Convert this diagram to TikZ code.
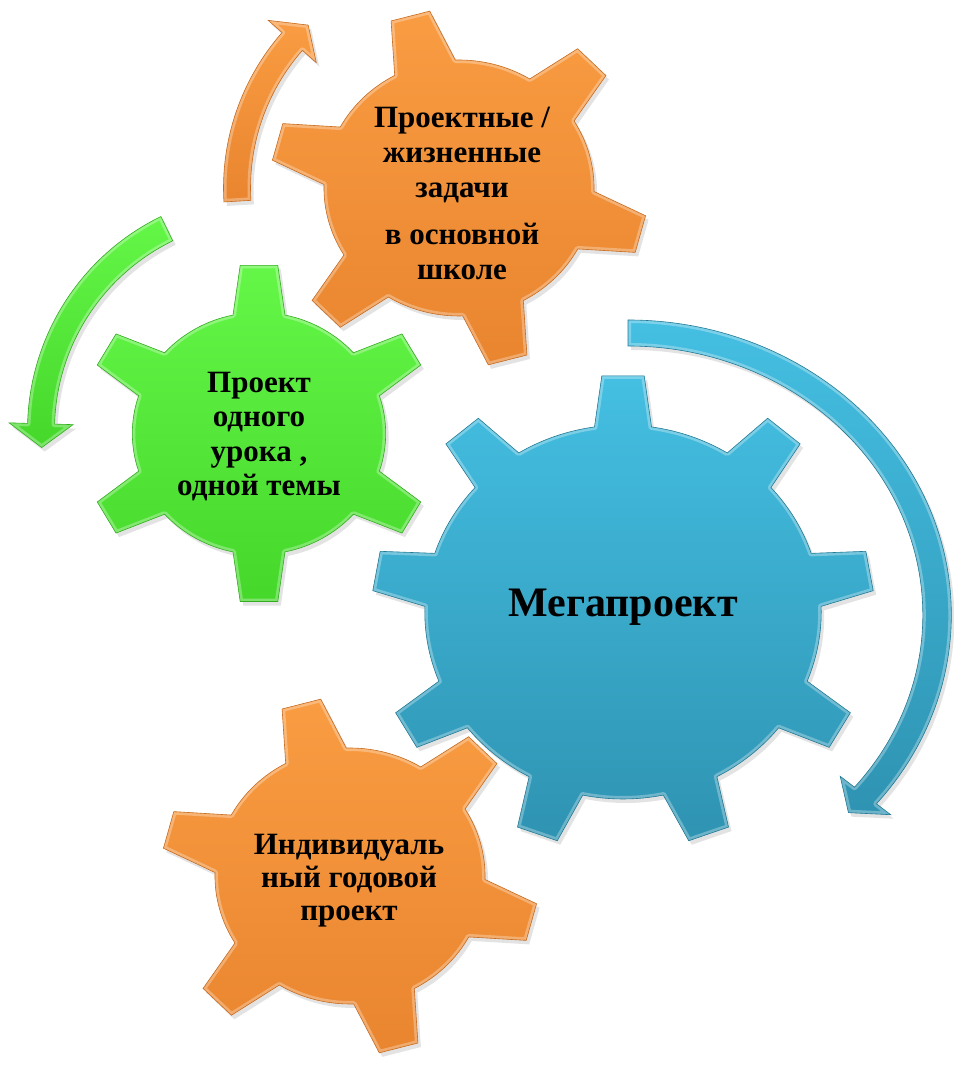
\documentclass[tikz,border=0pt]{standalone}
\usepackage{fontspec}
\setmainfont{Liberation Serif}
\usetikzlibrary{shadows}
\definecolor{orT}{HTML}{F99C42}
\definecolor{orB}{HTML}{E9852F}
\definecolor{orE}{HTML}{C76C20}
\definecolor{grT}{HTML}{64F748}
\definecolor{grB}{HTML}{45D82B}
\definecolor{grE}{HTML}{33AD1F}
\definecolor{blT}{HTML}{44BFE2}
\definecolor{blB}{HTML}{2F93B2}
\definecolor{blE}{HTML}{237A95}
\newcommand\gearpath[6]{%
  ({#2-deg(#5/#3)}:#3)
  \foreach \k in {1,...,#1}{
    -- ({#2+(\k-1)*360/#1-deg(#6/#4)}:#4)
    -- ({#2+(\k-1)*360/#1+deg(#6/#4)}:#4)
    -- ({#2+(\k-1)*360/#1+deg(#5/#3)}:#3)
    arc[start angle={#2+(\k-1)*360/#1+deg(#5/#3)}, end angle={#2+\k*360/#1-deg(#5/#3)}, radius=#3]
  } -- cycle}
\newcommand\arrowpath[6]{%
  ({#4}:{#1+#2}) arc[start angle={#4}, end angle={#5}, radius={#1+#2}]
  -- ({#5}:{#1+#3}) -- ({#6}:{#1}) -- ({#5}:{#1-#3}) -- ({#5}:{#1-#2})
  arc[start angle={#5}, end angle={#4}, radius={#1-#2}] -- cycle}
\newcommand\gearfull[9]{%
  \path[shd, top color=#1, bottom color=#2] \gearpath{#4}{#5}{#6}{#7}{#8}{#9};
  \begin{scope}
    \clip \gearpath{#4}{#5}{#6}{#7}{#8}{#9};
    \draw[bevel] \gearpath{#4}{#5}{#6}{#7}{#8}{#9};
  \end{scope}
  \draw[#3, line width=0.6pt] \gearpath{#4}{#5}{#6}{#7}{#8}{#9};}
\newcommand\arrowfull[9]{%
  \path[shd, top color=#1, bottom color=#2] \arrowpath{#4}{#5}{#6}{#7}{#8}{#9};
  \begin{scope}
    \clip \arrowpath{#4}{#5}{#6}{#7}{#8}{#9};
    \draw[bevel] \arrowpath{#4}{#5}{#6}{#7}{#8}{#9};
  \end{scope}
  \draw[#3, line width=0.6pt] \arrowpath{#4}{#5}{#6}{#7}{#8}{#9};}
\tikzset{
  shd/.style={drop shadow={shadow xshift=3pt, shadow yshift=-4pt, opacity=0.22}},
  bevel/.style={draw=white, opacity=0.3, line width=6pt, line join=round},
  gtext/.style={align=center, inner sep=0pt, text=black,
    font=\bfseries\fontsize{31}{35}\selectfont},
}
\begin{document}
\begin{tikzpicture}[x=1pt, y=1pt]
\useasboundingbox (0,0) rectangle (953,1070);
\fill[white] (0,0) rectangle (953,1070);
% arrows
\begin{scope}[shift={(459,882)}]
  \arrowfull{orT}{orB}{orE}{222}{13.5}{32}{183.4}{138.7}{132.8}
\end{scope}
\begin{scope}[shift={(265,640)}]
  \arrowfull{grT}{grB}{grE}{224}{13.5}{32}{116}{178.4}{184.5}
\end{scope}
\begin{scope}[shift={(628,455)}, xscale=1.096]
  \arrowfull{blT}{blB}{blE}{282}{13}{30}{90}{-39.8}{-44.5}
\end{scope}
% gears
\begin{scope}[shift={(459,882)}, xscale=1.055]
  \gearfull{orT}{orB}{orE}{6}{45}{128}{179}{30}{19}
\end{scope}
\begin{scope}[shift={(259,636.5)}, xscale=1.047]
  \gearfull{grT}{grB}{grE}{6}{30}{121}{169}{25}{18}
\end{scope}
\begin{scope}[shift={(623,458)}, xscale=1.06]
  \gearfull{blT}{blB}{blE}{9}{90}{187}{237}{27}{20}
\end{scope}
\begin{scope}[shift={(350,194)}, xscale=1.055]
  \gearfull{orT}{orB}{orE}{6}{45}{128}{179}{30}{19}
\end{scope}
% texts
\node[gtext] (ttop) at (462,877) {Проектные /\\жизненные\\задачи\\[12pt]в основной\\школе};
\node[gtext, font=\bfseries\fontsize{31}{34.5}\selectfont] (tgreen) at (259,633.5) {Проект\\одного\\урока ,\\одной темы};
\node[gtext, font=\bfseries\fontsize{42}{48}\selectfont] (tmega) at (623,463) {Мегапроект};
\node[gtext, font=\bfseries\fontsize{31}{33}\selectfont] (tbottom) at (349,189) {Индивидуаль\\ный годовой\\проект};
\end{tikzpicture}
\end{document}
